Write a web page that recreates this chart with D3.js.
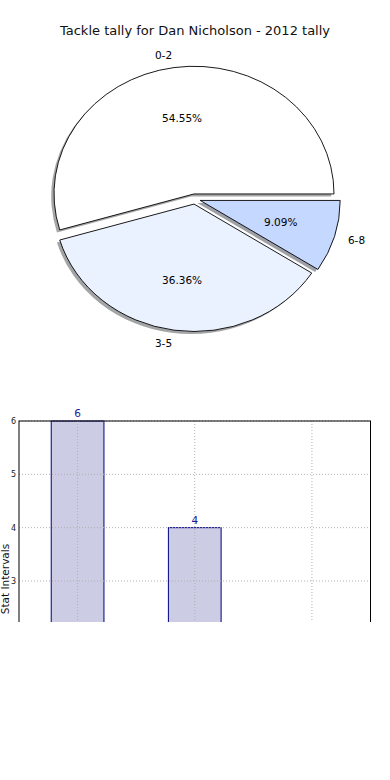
<!DOCTYPE html>
<html>
<head>
<meta charset="utf-8">
<script type="text/javascript" src="https://cdn.jsdelivr.net/npm/d3@7"></script>
<style>
	body { margin: 0; background: #fff; }
	text { font-family: "DejaVu Sans", sans-serif; }
</style>
</head>
<body>

<svg width="390" height="780"></svg>

<script type="text/javascript">

	// chart data
	var title = "Tackle tally for Dan Nicholson - 2012 tally";
	var categories = ["0-2", "3-5", "6-8"];
	var tallies = [6, 4, 1];
	var sliceColors = ["#ffffff", "#ebf2ff", "#c5d8ff"];
	var yTicks = [0, 1, 2, 3, 4, 5, 6];
	var yLabel = "Stat Intervals";

	var svg = d3.select("svg");

	svg.append("text")
		.attr("x", 195)
		.attr("y", 30)
		.attr("text-anchor", "middle")
		.attr("dominant-baseline", "central")
		.attr("font-size", 13)
		.attr("fill", "#111")
		.text(title);

	// ---- pie (stretched to an ellipse like the original axes) ----
	var cx = 194.8, cy = 199, rx = 140, ry = 127.5;
	var explode = 0.04;
	var total = d3.sum(tallies);

	// matplotlib starts at 3 o'clock and goes counter-clockwise
	var pie = d3.pie().sort(null).startAngle(Math.PI / 2).endAngle(Math.PI / 2 - 2 * Math.PI);
	var slices = pie(tallies);
	var arc = d3.arc().innerRadius(0).outerRadius(1);

	function mid(d) { return (d.startAngle + d.endAngle) / 2; }
	function dirX(d) { return Math.sin(mid(d)); }
	function dirY(d) { return -Math.cos(mid(d)); }

	var pieG = svg.append("g");

	// shadows first, under every wedge
	pieG.selectAll("path.shadow").data(slices).enter()
		.append("path")
		.attr("class", "shadow")
		.attr("transform", function(d) {
			var ox = cx + (dirX(d) * explode - 0.02) * rx;
			var oy = cy + (dirY(d) * explode + 0.02) * ry;
			return "translate(" + ox + "," + oy + ") scale(" + rx + "," + ry + ")";
		})
		.attr("d", arc)
		.attr("fill", function(d, i) {
			var c = d3.rgb(sliceColors[i]);
			return d3.rgb(c.r * 0.3, c.g * 0.3, c.b * 0.3);
		})
		.attr("opacity", 0.5);

	pieG.selectAll("path.wedge").data(slices).enter()
		.append("path")
		.attr("class", "wedge")
		.attr("transform", function(d) {
			var ox = cx + dirX(d) * explode * rx;
			var oy = cy + dirY(d) * explode * ry;
			return "translate(" + ox + "," + oy + ") scale(" + rx + "," + ry + ")";
		})
		.attr("d", arc)
		.attr("fill", function(d, i) { return sliceColors[i]; })
		.attr("stroke", "#000")
		.attr("stroke-width", 0.9)
		.attr("vector-effect", "non-scaling-stroke");

	// category labels at 1.1 r
	pieG.selectAll("text.lab").data(slices).enter()
		.append("text")
		.attr("class", "lab")
		.attr("x", function(d) { return cx + (dirX(d) * explode + dirX(d) * 1.1) * rx; })
		.attr("y", function(d) { return cy + (dirY(d) * explode + dirY(d) * 1.1) * ry; })
		.attr("text-anchor", function(d) { return dirX(d) > 0 ? "start" : "end"; })
		.attr("dominant-baseline", "central")
		.attr("font-size", 10.5)
		.text(function(d, i) { return categories[i]; });

	// percentages at 0.6 r
	pieG.selectAll("text.pct").data(slices).enter()
		.append("text")
		.attr("class", "pct")
		.attr("x", function(d) { return cx + (dirX(d) * explode + dirX(d) * 0.6) * rx; })
		.attr("y", function(d) { return cy + (dirY(d) * explode + dirY(d) * 0.6) * ry; })
		.attr("text-anchor", "middle")
		.attr("dominant-baseline", "central")
		.attr("font-size", 10.5)
		.text(function(d) { return (d.value / total * 100).toFixed(2) + "%"; });

	// ---- bar chart (only the top part shows) ----
	var plotLeft = 19, plotRight = 370.5, plotTop = 421, plotBottom = 741, cutoff = 622;

	var x = d3.scaleLinear().domain([-0.5, categories.length - 0.5]).range([plotLeft, plotRight]);
	var y = d3.scaleLinear().domain([0, 6]).range([plotBottom, plotTop]);

	svg.append("clipPath").attr("id", "cut")
		.append("rect").attr("x", 0).attr("y", 0).attr("width", 390).attr("height", cutoff);

	var bars = svg.append("g").attr("clip-path", "url(#cut)");

	bars.selectAll("rect.bar").data(tallies).enter()
		.append("rect")
		.attr("class", "bar")
		.attr("x", function(d, i) { return x(i - 0.225); })
		.attr("y", function(d) { return y(d); })
		.attr("width", x(0.45) - x(0))
		.attr("height", function(d) { return plotBottom - y(d); })
		.attr("fill", "#ccccE5")
		.attr("stroke", "#000080")
		.attr("stroke-width", 1);

	// dotted grid on top of the bars
	bars.selectAll("line.hgrid").data(yTicks).enter()
		.append("line")
		.attr("class", "hgrid")
		.attr("x1", plotLeft).attr("x2", plotRight)
		.attr("y1", function(d) { return y(d); })
		.attr("y2", function(d) { return y(d); })
		.attr("stroke", "#b0b0b0")
		.attr("stroke-dasharray", "1,2");

	bars.selectAll("line.vgrid").data(categories).enter()
		.append("line")
		.attr("class", "vgrid")
		.attr("x1", function(d, i) { return x(i); })
		.attr("x2", function(d, i) { return x(i); })
		.attr("y1", plotTop).attr("y2", plotBottom)
		.attr("stroke", "#b0b0b0")
		.attr("stroke-dasharray", "1,2");

	var yAxis = d3.axisLeft(y).tickValues(yTicks).tickFormat(d3.format("d")).tickSize(0).tickPadding(3);
	bars.append("g")
		.attr("transform", "translate(" + plotLeft + ",0)")
		.call(yAxis)
		.call(function(g) { g.select(".domain").remove(); })
		.selectAll("text")
		.attr("font-family", "DejaVu Sans")
		.attr("font-size", 8)
		.attr("fill", "#222");

	// frame
	bars.append("rect")
		.attr("x", plotLeft).attr("y", plotTop)
		.attr("width", plotRight - plotLeft).attr("height", plotBottom - plotTop)
		.attr("fill", "none")
		.attr("stroke", "#000")
		.attr("stroke-width", 1);

	bars.selectAll("text.val").data(tallies).enter()
		.append("text")
		.attr("class", "val")
		.attr("x", function(d, i) { return x(i); })
		.attr("y", function(d) { return y(d) - 4; })
		.attr("text-anchor", "middle")
		.attr("font-size", 10.5)
		.attr("fill", "#1a1a9a")
		.text(function(d) { return d; });

	// axis label sits outside the clip so it stays whole
	svg.append("text")
		.attr("transform", "translate(5," + ((plotTop + plotBottom) / 2 - 2) + ") rotate(-90)")
		.attr("text-anchor", "middle")
		.attr("dominant-baseline", "central")
		.attr("font-size", 10.5)
		.attr("fill", "#111")
		.text(yLabel);

</script>

</body>
</html>
